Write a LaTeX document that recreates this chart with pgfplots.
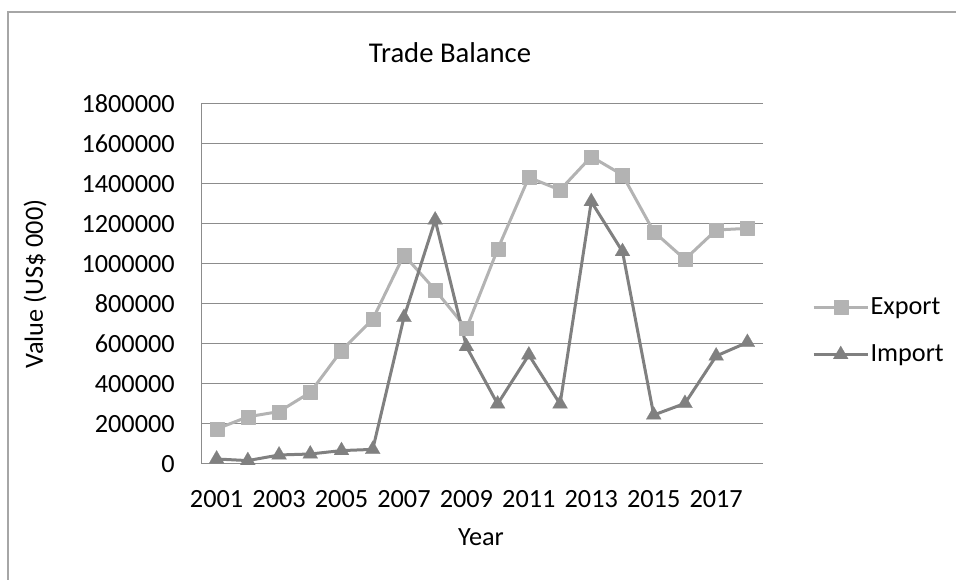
\documentclass[border=0pt]{standalone}
\usepackage{pgfplots}
\pgfplotsset{compat=1.18}
\usepackage{fontspec}
\setmainfont{Carlito}

\definecolor{expcol}{HTML}{B3B3B3}
\definecolor{impcol}{HTML}{808080}
\definecolor{gridcol}{HTML}{8C8C8C}
\definecolor{framecol}{HTML}{A6A6A6}

\begin{document}
\begin{tikzpicture}
\clip (0pt,0pt) rectangle (717pt,435pt);
% chart frame
\draw[framecol, line width=0.9pt] (6pt,-2pt) -- (6pt,426pt) -- (730pt,426pt);
% chart title
\node[font=\fontsize{21.5}{25}\selectfont] at (337.5pt,395.25pt) {Trade Balance};

\begin{axis}[
  at={(150.75pt,87pt)}, anchor=origin,
  scale only axis,
  width=421.5pt, height=270pt,
  xmin=2000.5, xmax=2018.5,
  ymin=0, ymax=1800000,
  xtick={2001,2003,...,2017},
  ytick={0,200000,...,1800000},
  scaled y ticks=false,
  /pgf/number format/fixed,
  /pgf/number format/precision=0,
  /pgf/number format/1000 sep={},
  /pgf/number format/assume math mode=true,
  axis x line*=bottom, axis y line*=left,
  axis line style={gridcol, line width=0.75pt, -},
  major tick length=0pt,
  ymajorgrids,
  major grid style={gridcol, line width=0.75pt},
  ticklabel style={font=\fontsize{19.7}{23}\selectfont, inner sep=0pt},
  yticklabel style={anchor=east, xshift=-19.5pt},
  xticklabel style={anchor=north, yshift=-19.5pt},
  clip=false,
  legend style={at={(1.08,0.37)}, anchor=west, draw=none, fill=none,
    font=\fontsize{19.7}{23}\selectfont, row sep=19.5pt,
    nodes={inner sep=1pt}, cells={anchor=west}},
  legend image code/.code={%
    \draw[mark repeat=2, mark phase=2, #1]
      plot coordinates {(0pt,0pt) (20.25pt,0pt) (40.5pt,0pt)};},
]
\addplot[expcol, line width=2.25pt, line join=round,
  mark=square*, mark size=5.25pt,
  mark options={fill=expcol, draw=expcol, line width=0.1pt}]
  coordinates {
  (2001,175000) (2002,236000) (2003,262000) (2004,358000) (2005,567000)
  (2006,723000) (2007,1045000) (2008,870000) (2009,678000) (2010,1073000)
  (2011,1433000) (2012,1370000) (2013,1537000) (2014,1445000) (2015,1162000)
  (2016,1023000) (2017,1170000) (2018,1178000)};
\addlegendentry{Export}
\addplot[impcol, line width=2.25pt, line join=round,
  mark=triangle*, mark size=6.5pt,
  mark options={fill=impcol, draw=impcol, line width=0.1pt}]
  coordinates {
  (2001,25000) (2002,17000) (2003,45000) (2004,50000) (2005,67000)
  (2006,73000) (2007,733000) (2008,1220000) (2009,587000) (2010,300000)
  (2011,545000) (2012,300000) (2013,1312000) (2014,1062000) (2015,245000)
  (2016,303000) (2017,540000) (2018,608000)};
\addlegendentry{Import}
\end{axis}

% axis titles
\node[font=\fontsize{19.7}{23}\selectfont] at (360.75pt,32.25pt) {Year};
\node[font=\fontsize{19.7}{23}\selectfont, rotate=90] at (26.25pt,222pt) {Value (US\$ 000)};
\end{tikzpicture}
\end{document}
